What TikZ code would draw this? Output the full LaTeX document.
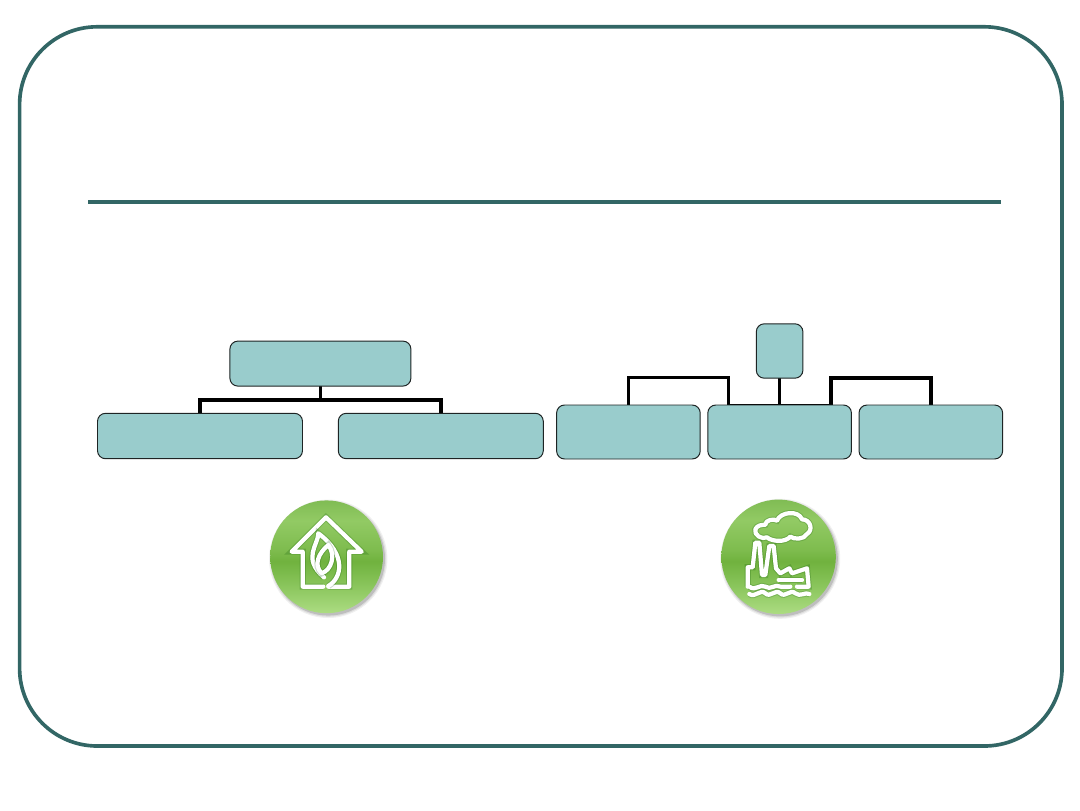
\documentclass[tikz,border=0pt]{standalone}
\usepackage{tikz}
\definecolor{Frameteal}{RGB}{50,102,101}
\definecolor{Boxteal}{RGB}{153,204,204}
\definecolor{Boxedge}{RGB}{30,36,36}
\definecolor{orbA}{RGB}{146,202,100}
\definecolor{orbB}{RGB}{112,178,62}
\definecolor{orbC}{RGB}{172,220,130}
\definecolor{orbD}{RGB}{136,196,90}
\definecolor{orbE}{RGB}{126,188,78}
\definecolor{orbF}{RGB}{128,188,84}
\usetikzlibrary{calc, positioning, backgrounds}
\pgfdeclareverticalshading{orbshade}{100bp}{
  color(0bp)=(orbC); color(25bp)=(orbC); color(38bp)=(orbD); color(48bp)=(orbB);
  color(53bp)=(orbE); color(66bp)=(orbA); color(75bp)=(orbF); color(100bp)=(orbF)}

\begin{document}
\begin{tikzpicture}[
  x=1cm, y=1cm,
  blk/.style={draw=Boxedge, rounded corners=0.2cm, fill=Boxteal, line width=0.7pt,
              inner sep=0pt, outer sep=0pt},
  widebox/.style={blk, minimum width=5.125cm, minimum height=1.135cm},
  kidbox/.style={blk, minimum width=3.59cm, minimum height=1.35cm},
  conn/.style={draw=black, line width=2.7pt, line join=miter},
  thinconn/.style={draw=black, line width=2.1pt},
  icon/.style={draw=white, line width=3pt, line join=round, line cap=round,
               preaction={draw=black!70!green, draw opacity=0.2, line width=4.4pt}}
]
\useasboundingbox (0,0) rectangle (27,20.25);
\draw[Frameteal, line width=2.6pt, rounded corners=1.94cm] (0.49,1.6) rectangle (26.55,19.58);
\draw[Frameteal, line width=2.8pt] (2.2,15.21) -- (25.02,15.21);

\node[blk, minimum width=4.525cm, minimum height=1.125cm] (ltop) at (8.01,11.16) {};
\node[widebox] (lkid1) at (5.0,9.35) {};
\node[widebox] (lkid2) at (11.02,9.35) {};

\node[blk, minimum width=1.165cm, minimum height=1.36cm] (rtop) at (19.49,11.475) {};
\node[kidbox] (rkid1) at (15.71,9.45) {};
\node[kidbox] (rkid2) at (19.49,9.45) {};
\node[kidbox] (rkid3) at (23.27,9.45) {};

\begin{scope}[on background layer]
  \coordinate (lbus) at (8.01,10.25);
  \draw[conn] (lkid1.north) |- (lbus) -| (lkid2.north);
  \draw[thinconn] (ltop.south) -- (lbus);
  \coordinate (lbend) at (18.22,10.81);
  \coordinate (rbend) at (20.77,10.81);
  \draw[thinconn] (rtop.south) -- (rkid2.north);
  \draw[thinconn] (rkid1.north) |- (lbend) -- (lbend |- rkid2.north) -- (rbend |- rkid2.north);
  \draw[conn] (rbend |- rkid2.north) -- (rbend) -| (rkid3.north);
\end{scope}

\foreach \ox/\oy/\orad/\oname in {8.165/6.33/1.41/lorb, 19.465/6.33/1.43/rorb} {
  \foreach \sh/\op in {0.07/0.06, 0.04/0.08, 0.01/0.14} {
    \fill[black, opacity=\op] ($(\ox,\oy)+(0.04,-0.05)$) circle ({\orad+\sh});
  }
  \shade[shading=orbshade] (\ox,\oy) circle (\orad);
  \node[inner sep=0pt, minimum size=2.8cm, circle] (\oname) at (\ox,\oy) {};
}

\begin{scope}[shift={(6.5,8.0)}, x=0.00833cm, y=-0.00833cm]
  \draw[icon] (190,290) -- (128,290) -- (128,185) -- (95,185) -- (198,82) -- (305,185)
    -- (268,185) -- (268,290) -- (205,290);
  \draw[icon] (205,288) .. controls (245,265) and (262,195) .. (175,130)
    .. controls (175,165) and (125,205) .. (192,262);
  \draw[icon] (205,165) .. controls (228,195) and (215,240) .. (185,250)
    .. controls (160,225) and (175,190) .. (205,165) -- cycle;
\end{scope}

\begin{scope}[shift={(17.8,8.0)}, x=0.00833cm, y=-0.00833cm]
  \draw[icon] (165,142) .. controls (150,150) and (125,135) .. (130,118)
    .. controls (135,105) and (150,105) .. (160,104)
    .. controls (160,90) and (185,85) .. (195,92)
    .. controls (205,65) and (260,60) .. (270,88)
    .. controls (295,88) and (305,120) .. (285,132)
    .. controls (275,150) and (245,148) .. (235,140)
    .. controls (220,158) and (180,155) .. (165,142) -- cycle;
  \draw[icon] (107,290) -- (107,232) -- (122,232) -- (130,158) -- (142,158) -- (150,255)
    -- (160,255) -- (172,168) -- (185,168) -- (192,235) -- (205,250) -- (232,235)
    -- (240,250) -- (285,235) -- (290,290) -- (255,290);
  \draw[icon] (200,270) -- (270,270);
  \draw[icon] (112,312) .. controls (130,325) and (145,295) .. (160,310)
    .. controls (175,325) and (190,295) .. (205,310)
    .. controls (220,325) and (235,295) .. (250,310)
    .. controls (265,322) and (280,305) .. (292,312);
  \draw[icon] (112,290) .. controls (130,305) and (145,280) .. (160,290)
    .. controls (175,302) and (190,280) .. (205,290) -- (235,290);
\end{scope}
\end{tikzpicture}
\end{document}
